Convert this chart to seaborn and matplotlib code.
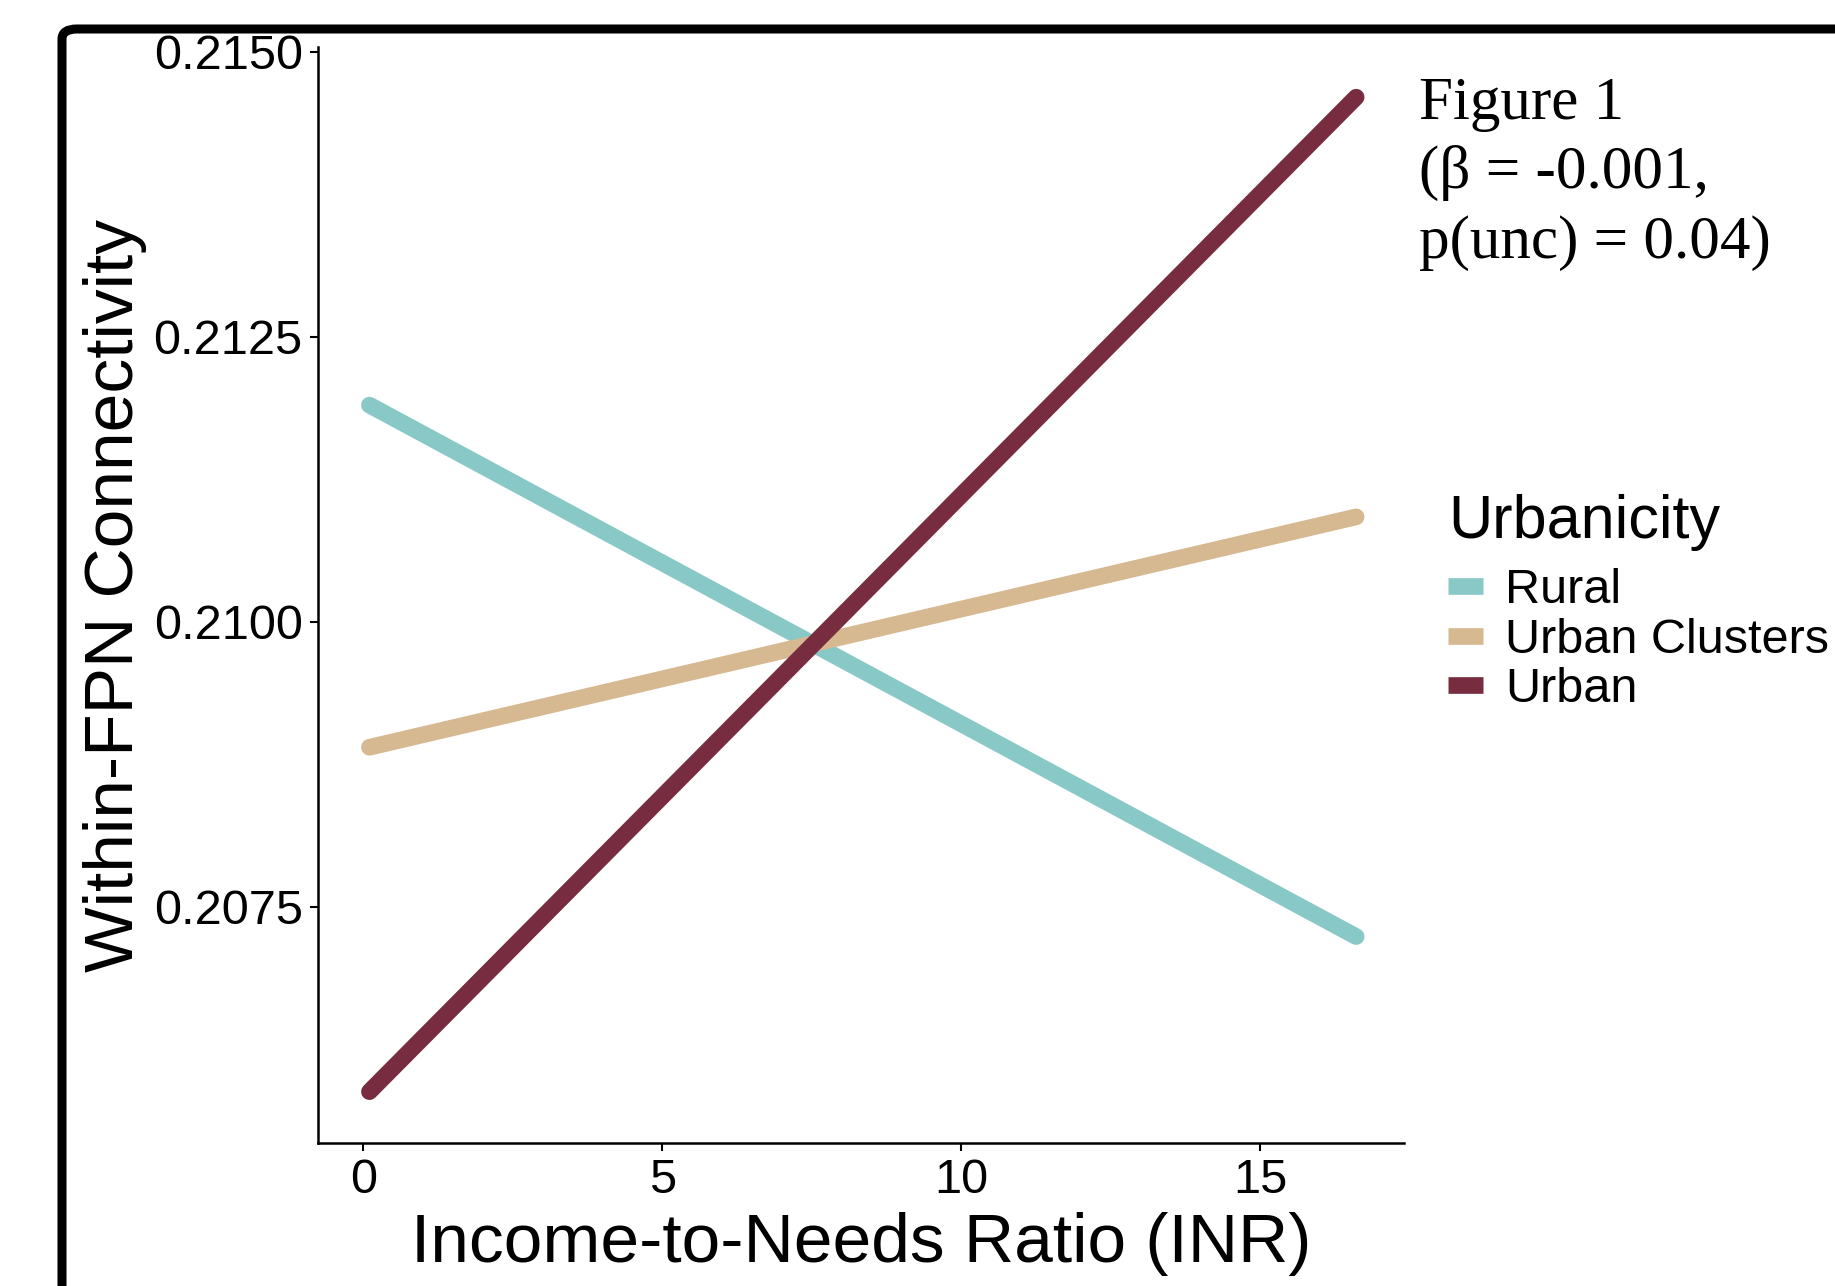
import numpy as np
import pandas as pd
import matplotlib.pyplot as plt
import seaborn as sns
from matplotlib.patches import FancyBboxPatch

# datos de las rectas ajustadas (extremos)
inr = [0.1, 16.6]
grupos = ["Rural", "Urban Clusters", "Urban"]
rural = [0.21190, 0.20724]
urban_clusters = [0.20890, 0.21092]
urban = [0.20588, 0.21460]
colores = ["#88C9C8", "#D6B891", "#772D3F"]

y_ticks = [0.2075, 0.2100, 0.2125, 0.2150]
x_ticks = [0, 5, 10, 15]

df = pd.DataFrame({
    "INR": inr * 3,
    "FPN": rural + urban_clusters + urban,
    "Urbanicity": [g for g in grupos for _ in inr],
})

sns.set_style("ticks")
plt.rcParams["font.family"] = ["Liberation Sans", "DejaVu Sans"]
plt.rcParams["text.color"] = "black"
plt.rcParams["axes.labelcolor"] = "black"

fig = plt.figure(figsize=(18.35, 12.86), dpi=100)
ax = fig.add_axes([318 / 1835, 1 - 1143 / 1286, (1404 - 318) / 1835, (1143 - 47) / 1286])

sns.lineplot(data=df, x="INR", y="FPN", hue="Urbanicity", hue_order=grupos,
             palette=colores, linewidth=12, solid_capstyle="round", ax=ax)

ax.set_xlim(-0.76, 17.4)
ax.set_ylim(0.20543, 0.21504)
ax.set_xticks(x_ticks)
ax.set_yticks(y_ticks)
ax.set_yticklabels([f"{v:.4f}" for v in y_ticks])
ax.tick_params(labelsize=35, length=6, width=1.5, pad=5, colors="black")
sns.despine(ax=ax)
for s in ["left", "bottom"]:
    ax.spines[s].set_linewidth(1.8)
    ax.spines[s].set_color("black")

ax.set_xlabel("Income-to-Needs Ratio (INR)", fontsize=50, labelpad=6)
ax.set_ylabel("Within-FPN Connectivity", fontsize=50)
ax.yaxis.set_label_coords(-0.157, 0.5)

leg = ax.legend(title="Urbanicity", loc="upper left",
                bbox_to_anchor=(1448 / 1835, 1 - 494 / 1286),
                bbox_transform=fig.transFigure, frameon=False,
                fontsize=35, title_fontsize=44, borderpad=0, borderaxespad=0,
                handlelength=0.72, handletextpad=0.45, labelspacing=0.1)
leg._legend_box.align = "left"
leg._legend_box.sep = 12
for h in leg.legend_handles:
    h.set_linewidth(12)
    h.set_solid_capstyle("butt")

fig.text(1419 / 1835, 1 - 76 / 1286, "Figure 1\n(β = -0.001,\np(unc) = 0.04)",
         family=["Liberation Serif", "DejaVu Serif"], fontsize=44,
         va="top", ha="left", linespacing=1.32)

# marco negro del póster
marco = FancyBboxPatch((62 / 1835, -0.5), 2.0, (1 - 29 / 1286) + 0.5,
                       boxstyle="round,pad=0,rounding_size=0.008",
                       transform=fig.transFigure, fill=False,
                       edgecolor="black", linewidth=6.5)
fig.patches.append(marco)

fig.savefig("out.png", dpi=100)
